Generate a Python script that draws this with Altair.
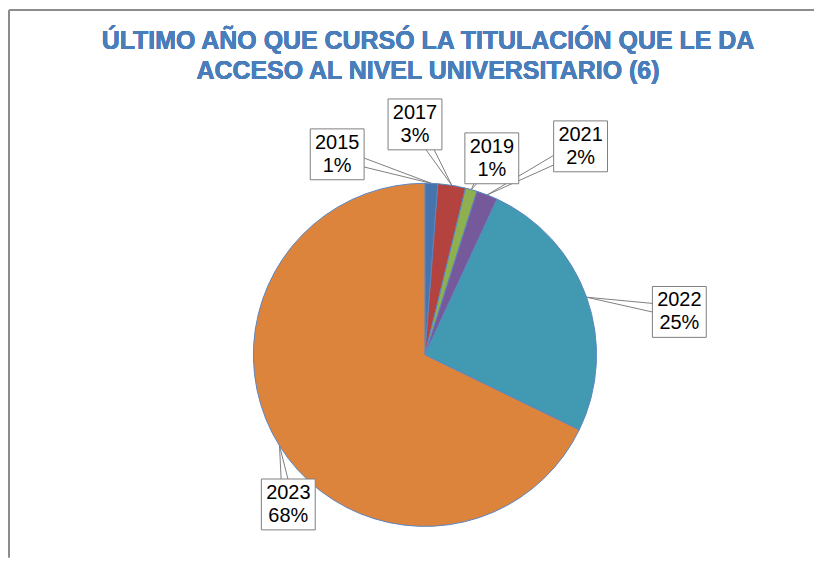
import math
import altair as alt
import pandas as pd

# ---- data ----
years = ["2015", "2017", "2019", "2021", "2022", "2023"]
shares = [1.2, 2.6, 1.1, 2.0, 25.3, 67.8]          # percent of respondents
colors = ["#4675AE", "#B4423F", "#8EB04F", "#76599A", "#4299B2", "#DC843C"]
title_lines = ["ÚLTIMO AÑO QUE CURSÓ LA TITULACIÓN QUE LE DA",
               "ACCESO AL NIVEL UNIVERSITARIO (6)"]

# ---- layout (pixels) ----
W, H = 807, 550
CX, CY = 417, 347          # pie centre inside the plot area
R = 172                    # pie radius
label_dx = [-88, -10, 67, 156, 255, -137]   # box centre offsets from pie centre
label_dy = [-201, -231, -197, -209, -43, 150]
BOX_W, BOX_H = 54, 51
WEDGE = 6
LINE_H = 23

total = sum(shares)
rows, segs = [], []
cum = 0.0
for i, (yr, s) in enumerate(zip(years, shares)):
    mid = (cum + s / 2) / total * 2 * math.pi
    cum += s
    ax, ay = R * math.sin(mid), R * math.cos(mid)
    bx, by = label_dx[i], -label_dy[i]
    rows.append(dict(idx=i, year=yr, share=s,
                     label=f"{yr}\n{round(s)}%",
                     bx=bx, by=by,
                     x0=bx - BOX_W / 2, x1=bx + BOX_W / 2,
                     y0=by - BOX_H / 2, y1=by + BOX_H / 2))
    vx, vy = ax - bx, ay - by
    n = math.hypot(vx, vy)
    px, py = -vy / n * WEDGE, vx / n * WEDGE
    for sgn in (1, -1):
        segs.append(dict(idx=i, sx=bx + sgn * px, sy=by + sgn * py, ex=ax, ey=ay))

df = pd.DataFrame(rows)
seg = pd.DataFrame(segs)

xs = alt.Scale(domain=[-CX, W - CX], nice=False, zero=False)
ys = alt.Scale(domain=[-(H - CY), CY], nice=False, zero=False)

pie = alt.Chart(df).mark_arc(outerRadius=R, stroke="#5B86C2", strokeWidth=1).encode(
    theta=alt.Theta("share:Q", stack=True),
    order=alt.Order("idx:Q"),
    color=alt.Color("year:N", scale=alt.Scale(domain=years, range=colors), legend=None),
    x=alt.X(datum=0, type="quantitative", scale=xs, axis=None),
    y=alt.Y(datum=0, type="quantitative", scale=ys, axis=None),
)

leaders = alt.Chart(seg).mark_rule(color="#7F7F7F", strokeWidth=1).encode(
    x=alt.X("sx:Q", scale=xs, axis=None),
    y=alt.Y("sy:Q", scale=ys, axis=None),
    x2="ex:Q",
    y2="ey:Q",
)

boxes = alt.Chart(df).mark_rect(fill="white", stroke="#7F7F7F", strokeWidth=1).encode(
    x=alt.X("x0:Q", scale=xs, axis=None),
    x2="x1:Q",
    y=alt.Y("y0:Q", scale=ys, axis=None),
    y2="y1:Q",
)

labels = alt.Chart(df).mark_text(
    font="Liberation Sans", fontSize=20, lineHeight=LINE_H, lineBreak="\n",
    align="center", baseline="middle", color="black", dy=-LINE_H / 2,
).encode(
    x=alt.X("bx:Q", scale=xs, axis=None),
    y=alt.Y("by:Q", scale=ys, axis=None),
    text="label:N",
)

title = alt.Chart(df).mark_text(
    text=title_lines, font="Liberation Sans", fontSize=25, fontWeight="bold",
    color="#4A7EBB", align="center", baseline="alphabetic", lineHeight=30,
).encode(x=alt.value(420), y=alt.value(40))

frame_top = alt.Chart(df).mark_rule(color="#8C8C8C", strokeWidth=1.5).encode(
    x=alt.value(0), x2=alt.value(W), y=alt.value(1.5))
frame_left = alt.Chart(df).mark_rule(color="#8C8C8C", strokeWidth=1.5).encode(
    x=alt.value(0), y=alt.value(1.5), y2=alt.value(H))

chart = alt.layer(frame_top, frame_left, leaders, pie, boxes, labels, title).properties(
    width=W, height=H, padding=0
).configure_view(stroke=None)

chart.save("out.html", embed_options={"renderer": "svg", "actions": False})
